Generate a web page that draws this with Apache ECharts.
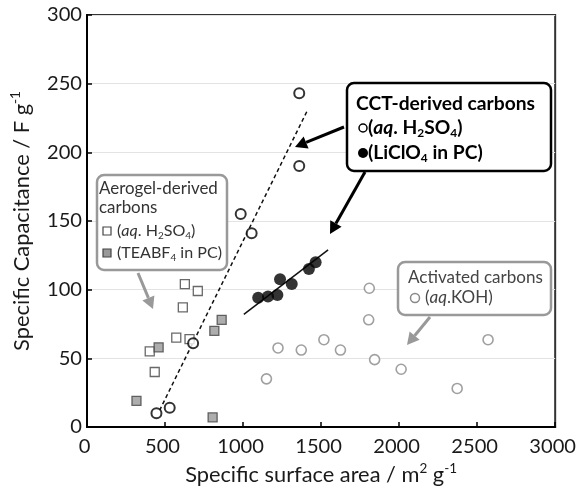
<!DOCTYPE html>
<html><head><meta charset="utf-8">
<script src="https://cdn.jsdelivr.net/npm/echarts@6/dist/echarts.min.js"></script>
<style>html,body{margin:0;padding:0;background:#fff}#c{width:579px;height:491px}</style>
</head><body><div id="c"></div>
<script>
// ---- data ----
const cctAqX = [1360, 1360, 985, 1055, 680, 445, 530];
const cctAqY = [243, 190, 155, 141, 61, 10, 14];
const cctLiX = [1097, 1160, 1220, 1237, 1312, 1422, 1465];
const cctLiY = [94, 95, 96, 107.5, 104, 115, 120];
const aeroAqX = [627, 710, 614, 572, 657, 402, 434];
const aeroAqY = [104, 99, 87, 65, 64, 55, 40];
const aeroTeaX = [459, 863, 816, 317, 805];
const aeroTeaY = [58, 78, 70, 19, 7];
const actX = [1224, 1150, 1373, 1518, 1624, 1809, 1805, 1843, 2013, 2372, 2570];
const actY = [57.5, 35, 56, 63.5, 56, 101, 78, 49, 42, 28, 63.5];
const fitAqX = [465, 1410];
const fitAqY = [12, 230];
const fitLiX = [1005, 1545];
const fitLiY = [82, 129];
const xTicks = [0, 500, 1000, 1500, 2000, 2500, 3000];
const yTicks = [0, 50, 100, 150, 200, 250, 300];

const zip = (a, b) => a.map((v, i) => [v, b[i]]);
const F = 'Lato, "Open Sans", sans-serif';

// text fitting helpers (style only)
const ctx = document.createElement('canvas').getContext('2d');
function mw(t, size, bold, italic) {
  ctx.font = (italic ? 'italic ' : '') + (bold ? 'bold ' : '') + size + 'px ' + F;
  return ctx.measureText(t).width;
}
const SUB = 0.62;
function fitSize(tokens, targetW, bold) {
  const base = 20;
  let w = 0;
  tokens.forEach(([t, k]) => { w += mw(t, (k === 's' || k === 'p') ? base * SUB : base, bold, k === 'i'); });
  return base * targetW / w;
}
function richFor(fs, color, bold) {
  const fw = bold ? 'bold' : 'normal';
  return {
    n: { fontSize: fs, fontWeight: fw, fontFamily: F, color, lineHeight: fs * 1.2 },
    i: { fontSize: fs, fontWeight: fw, fontStyle: 'italic', fontFamily: F, color, lineHeight: fs * 1.2 },
    s: { fontSize: fs * SUB, fontWeight: fw, fontFamily: F, color, verticalAlign: 'bottom', lineHeight: fs * 0.6 },
    p: { fontSize: fs * SUB, fontWeight: fw, fontFamily: F, color, verticalAlign: 'top', lineHeight: fs * 0.6 }
  };
}
const toRich = (tokens) => tokens.map(([t, k]) => '{' + k + '|' + t + '}').join('');
function lineFs(x, y, tokens, fs, color, bold) {
  return { type: 'text', z: 101, style: { x, y, text: toRich(tokens), rich: richFor(fs, color, bold), verticalAlign: 'middle', align: 'left', fill: color } };
}

function arrow(x1, y1, x2, y2, color, w) {
  const a = Math.atan2(y2 - y1, x2 - x1);
  const L = 12, W = 6.5;
  const bx = x2 - L * Math.cos(a), by = y2 - L * Math.sin(a);
  return [
    { type: 'line', z: 100, shape: { x1, y1, x2: bx, y2: by }, style: { stroke: color, lineWidth: w } },
    { type: 'polygon', z: 100, shape: { points: [[x2, y2], [bx + W * Math.sin(a), by - W * Math.cos(a)], [bx - W * Math.sin(a), by + W * Math.cos(a)]] }, style: { fill: color } }
  ];
}

const aqTokens = [['(', 'n'], ['aq', 'i'], ['. H', 'n'], ['2', 's'], ['SO', 'n'], ['4', 's'], [')', 'n']];
const cctFs = fitSize([['CCT-derived carbons', 'n']], 179, true);
const aeroFs = fitSize([['Aerogel-derived', 'n']], 119, false);
const actFs = fitSize([['Activated carbons', 'n']], 135, false);

const graphic = [
  // CCT box
  { type: 'rect', z: 99, shape: { x: 347, y: 83, width: 204, height: 88, r: 7 }, style: { fill: '#fff', stroke: '#000', lineWidth: 2.5 } },
  lineFs(356, 104, [['CCT-derived carbons', 'n']], cctFs, '#000', true),
  { type: 'circle', z: 101, shape: { cx: 363, cy: 128, r: 4 }, style: { fill: '#fff', stroke: '#000', lineWidth: 1.5 } },
  lineFs(368, 128, aqTokens, cctFs, '#000', true),
  { type: 'circle', z: 101, shape: { cx: 363, cy: 153, r: 5 }, style: { fill: '#000' } },
  lineFs(368, 153, [['(LiClO', 'n'], ['4', 's'], [' in PC)', 'n']], cctFs, '#000', true),
  ...arrow(344, 127, 295, 147, '#000', 3),
  ...arrow(365, 172, 330, 234, '#000', 3),
  // Aerogel box
  { type: 'rect', z: 99, shape: { x: 97, y: 175, width: 130, height: 95, r: 7 }, style: { fill: '#fff', stroke: '#999', lineWidth: 2.5 } },
  lineFs(99, 189, [['Aerogel-derived', 'n']], aeroFs, '#333', false),
  lineFs(99, 208, [['carbons', 'n']], aeroFs, '#333', false),
  { type: 'rect', z: 101, shape: { x: 103, y: 227, width: 8, height: 8 }, style: { fill: '#fff', stroke: '#444', lineWidth: 1.2 } },
  lineFs(117, 231, aqTokens, aeroFs * 0.95, '#333', false),
  { type: 'rect', z: 101, shape: { x: 103, y: 249, width: 8, height: 8 }, style: { fill: '#999', stroke: '#444', lineWidth: 1.2 } },
  lineFs(117, 253, [['(TEABF', 'n'], ['4', 's'], [' in PC)', 'n']], aeroFs * 0.95, '#333', false),
  ...arrow(138, 273, 153, 309, '#999', 3),
  // Activated box
  { type: 'rect', z: 99, shape: { x: 398, y: 262, width: 153, height: 53, r: 7 }, style: { fill: '#fff', stroke: '#999', lineWidth: 2.5 } },
  lineFs(408, 277, [['Activated carbons', 'n']], actFs, '#444', false),
  { type: 'circle', z: 101, shape: { cx: 415, cy: 298, r: 4.5 }, style: { fill: '#fff', stroke: '#888', lineWidth: 1.5 } },
  lineFs(425, 297, [['(', 'n'], ['aq', 'i'], ['.KOH)', 'n']], actFs, '#444', false),
  ...arrow(430, 317, 407, 345, '#999', 3)
];

// axis titles and tick label sizes fitted to the reference widths
const xTitleTokens = [['Specific surface area / m', 'n'], ['2', 'p'], [' g', 'n'], ['-1', 'p']];
const yTitleTokens = [['Specific Capacitance / F g', 'n'], ['-1', 'p']];
const xfs = fitSize(xTitleTokens, 272, false);
const yfs = fitSize(yTitleTokens, 260, false);
const tickFs = 20 * 46.7 / mw('1000', 20, false, false);

const chart = echarts.init(document.getElementById('c'), null, { renderer: 'canvas' });
chart.setOption({
  animation: false,
  backgroundColor: '#fff',
  grid: { left: 87, right: 21.5, top: 15, bottom: 60.3, show: true, borderColor: '#333', borderWidth: 2, backgroundColor: 'transparent' },
  xAxis: {
    type: 'value', min: xTicks[0], max: xTicks[xTicks.length - 1], interval: 500,
    name: toRich(xTitleTokens), nameLocation: 'middle', nameGap: 35,
    nameTextStyle: { rich: richFor(xfs, '#1a1a1a', false) },
    axisLine: { lineStyle: { color: '#000', width: 2 } },
    axisTick: { inside: true, length: 5, lineStyle: { color: '#000', width: 1.5 } },
    splitLine: { show: false },
    axisLabel: { fontSize: tickFs, fontFamily: F, color: '#1a1a1a', margin: 10, padding: [0, 5, 0, 0], formatter: (v) => String(v) }
  },
  yAxis: {
    type: 'value', min: yTicks[0], max: yTicks[yTicks.length - 1], interval: 50,
    name: toRich(yTitleTokens), nameLocation: 'middle', nameGap: 52, nameRotate: 90,
    nameTextStyle: { rich: richFor(yfs, '#1a1a1a', false) },
    axisLine: { lineStyle: { color: '#000', width: 2 } },
    axisTick: { inside: true, length: 5, lineStyle: { color: '#000', width: 1.5 } },
    splitLine: { show: true, lineStyle: { color: '#e3e3e3', width: 1 } },
    axisLabel: { fontSize: tickFs, fontFamily: F, color: '#1a1a1a', margin: 5, padding: [6, 0, 0, 0], formatter: (v) => String(v) }
  },
  series: [
    { type: 'line', data: zip(fitAqX, fitAqY), symbol: 'none', lineStyle: { color: '#111', width: 1.5, type: [4, 3] }, z: 2 },
    { type: 'line', data: zip(fitLiX, fitLiY), symbol: 'none', lineStyle: { color: '#111', width: 1.5 }, z: 2 },
    { type: 'scatter', data: zip(actX, actY), symbol: 'circle', symbolSize: 10, itemStyle: { color: '#fff', borderColor: '#888', borderWidth: 1.6 }, z: 3 },
    { type: 'scatter', data: zip(aeroAqX, aeroAqY), symbol: 'rect', symbolSize: 9, itemStyle: { color: '#fff', borderColor: '#444', borderWidth: 1.3 }, z: 3 },
    { type: 'scatter', data: zip(aeroTeaX, aeroTeaY), symbol: 'rect', symbolSize: 9, itemStyle: { color: '#999', borderColor: '#444', borderWidth: 1.3 }, z: 3 },
    { type: 'scatter', data: zip(cctAqX, cctAqY), symbol: 'circle', symbolSize: 10, itemStyle: { color: '#fff', borderColor: '#000', borderWidth: 2 }, z: 4 },
    { type: 'scatter', data: zip(cctLiX, cctLiY), symbol: 'circle', symbolSize: 12, itemStyle: { color: '#000' }, z: 4 }
  ],
  graphic
});
</script></body></html>
